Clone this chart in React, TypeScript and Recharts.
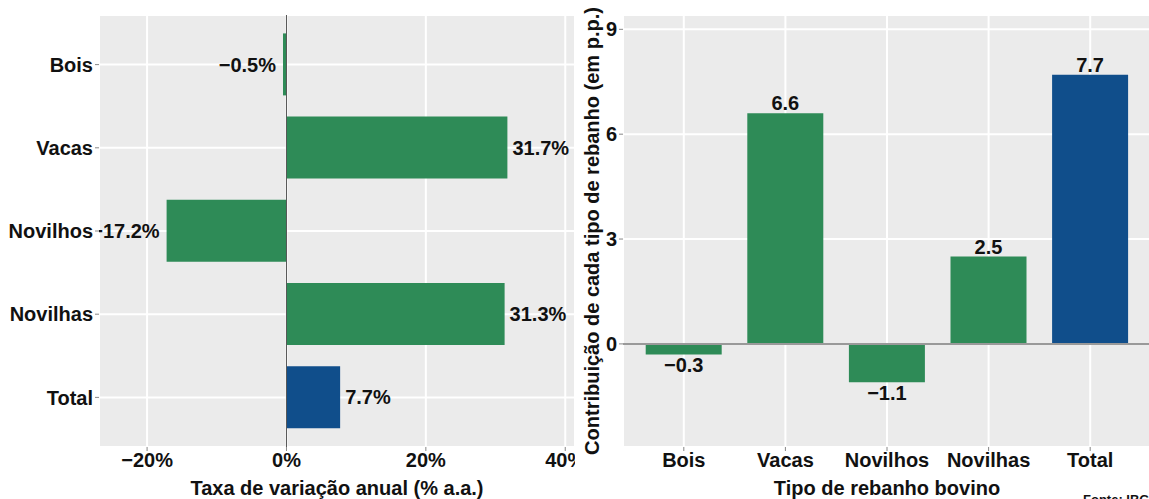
import { BarChart, Bar, XAxis, YAxis, CartesianGrid, ReferenceLine, Cell, LabelList, Label } from 'recharts';

const categories = ['Bois', 'Vacas', 'Novilhos', 'Novilhas', 'Total'];
const annualRate = [-0.5, 31.7, -17.2, 31.3, 7.7];
const contribution = [-0.3, 6.6, -1.1, 2.5, 7.7];
const rateTicks = [-20, 0, 20, 40];
const rateMinorTicks = [-10, 10, 30];
const contribTicks = [0, 3, 6, 9];
const contribMinorTicks = [-1.5, 1.5, 4.5, 7.5];

const GREEN = '#2E8B57';
const BLUE = '#104E8B';
const PANEL = '#EBEBEB';
const FONT = '"Liberation Sans", Arial, Helvetica, sans-serif';

const rateData = categories.map((name, i) => ({ name, value: annualRate[i] }));
const contribData = categories.map((name, i) => ({ name, value: contribution[i] }));

const minus = (s: string) => s.replace('-', '\u2212');
const fmtPct = (v: number) => minus(`${v}%`);
const fmtNum = (v: number) => minus(v.toFixed(1));

const textStyle = { fontFamily: FONT, fontWeight: 700, fontSize: 20, fill: '#111' };
const tickStyle = { fontFamily: FONT, fontWeight: 700, fontSize: 20, fill: '#111' };

// left panel layout
const L_W = 575;
const L_TOP = 15;
const L_AXIS_W = 99;
const L_AXIS_H = 52;

function RateLabel(props: any) {
  const { x, y, width, height, value } = props;
  const a = Number(x);
  const b = Number(x) + Number(width);
  const neg = Number(value) < 0;
  const end = neg ? Math.min(a, b) : Math.max(a, b);
  const cy = Number(y) + Number(height) / 2;
  return (
    <text
      x={neg ? end - 7 : end + 5}
      y={cy}
      dy="0.36em"
      textAnchor={neg ? 'end' : 'start'}
      clipPath="url(#rate-clip)"
      style={textStyle}
    >
      {fmtPct(Number(value))}
    </text>
  );
}

function ContribLabel(props: any) {
  const { x, y, width, height, value } = props;
  const top = Math.min(Number(y), Number(y) + Number(height));
  const bottom = Math.max(Number(y), Number(y) + Number(height));
  const cx = Number(x) + Number(width) / 2;
  const neg = Number(value) < 0;
  return (
    <text x={cx} y={neg ? bottom + 18 : top - 3} textAnchor="middle" style={textStyle}>
      {fmtNum(Number(value))}
    </text>
  );
}

function XTitle({ viewBox, text }: any) {
  const cx = viewBox.x + viewBox.width / 2;
  return (
    <text x={cx} y={viewBox.y + 48} textAnchor="middle" style={textStyle}>
      {text}
    </text>
  );
}

function YTitle({ viewBox, text }: any) {
  const cx = viewBox.x + 17;
  const cy = viewBox.y + viewBox.height / 2;
  return (
    <text
      x={cx}
      y={cy}
      dy="0.36em"
      transform={`rotate(-90 ${cx} ${cy})`}
      textAnchor="middle"
      style={textStyle}
    >
      {text}
    </text>
  );
}

function RateChart() {
  return (
    <BarChart
      layout="vertical"
      width={L_W}
      height={499}
      data={rateData}
      margin={{ top: L_TOP, right: 0, bottom: 0, left: 0 }}
      barCategoryGap="12.5%"
    >
      <defs>
        <clipPath id="rate-clip">
          <rect x={L_AXIS_W} y={L_TOP} width={L_W - L_AXIS_W} height={499 - L_TOP - L_AXIS_H} />
        </clipPath>
      </defs>
      <CartesianGrid fill={PANEL} stroke="#fff" strokeWidth={2} />
      <CartesianGrid xAxisId="minor" horizontal={false} stroke="#fff" strokeWidth={1} />
      <XAxis
        type="number"
        domain={[-26.9, 41.4]}
        ticks={rateTicks}
        tickFormatter={fmtPct}
        height={L_AXIS_H}
        axisLine={false}
        tickSize={4}
        tickMargin={2}
        tickLine={{ stroke: '#888' }}
        tick={tickStyle}
        interval={0}
      >
        <Label content={(p: any) => <XTitle viewBox={p.viewBox} text="Taxa de variação anual (% a.a.)" />} />
      </XAxis>
      <XAxis xAxisId="minor" type="number" domain={[-26.9, 41.4]} ticks={rateMinorTicks} hide />
      <YAxis
        type="category"
        dataKey="name"
        width={L_AXIS_W}
        padding={{ top: 8, bottom: 8 }}
        axisLine={false}
        tickSize={4}
        tickMargin={2}
        tickLine={{ stroke: '#888' }}
        tick={tickStyle}
        interval={0}
      />
      <Bar dataKey="value" isAnimationActive={false}>
        {rateData.map((d) => (
          <Cell key={d.name} fill={d.name === 'Total' ? BLUE : GREEN} />
        ))}
        <LabelList dataKey="value" content={RateLabel} />
      </Bar>
      <ReferenceLine x={0} stroke="#555" strokeWidth={1} />
    </BarChart>
  );
}

function ContribChart() {
  return (
    <BarChart
      width={576}
      height={499}
      data={contribData}
      margin={{ top: 15, right: 0, bottom: 0, left: 0 }}
      barCategoryGap="12.5%"
    >
      <CartesianGrid fill={PANEL} stroke="#fff" strokeWidth={2} />
      <CartesianGrid yAxisId="minor" vertical={false} stroke="#fff" strokeWidth={1} />
      <XAxis
        dataKey="name"
        height={52}
        padding={{ left: 10, right: 10 }}
        axisLine={false}
        tickSize={4}
        tickMargin={2}
        tickLine={{ stroke: '#888' }}
        tick={tickStyle}
        interval={0}
      >
        <Label content={(p: any) => <XTitle viewBox={p.viewBox} text="Tipo de rebanho bovino" />} />
      </XAxis>
      <YAxis
        type="number"
        domain={[-2.95, 9.41]}
        ticks={contribTicks}
        width={48}
        axisLine={false}
        tickSize={4}
        tickMargin={2}
        tickLine={{ stroke: '#888' }}
        tick={tickStyle}
        interval={0}
      >
        <Label content={(p: any) => <YTitle viewBox={p.viewBox} text="Contribuição de cada tipo de rebanho (em p.p.)" />} />
      </YAxis>
      <YAxis yAxisId="minor" type="number" domain={[-2.95, 9.41]} ticks={contribMinorTicks} hide />
      <ReferenceLine y={0} stroke="#999" strokeWidth={2} />
      <Bar dataKey="value" isAnimationActive={false}>
        {contribData.map((d) => (
          <Cell key={d.name} fill={d.name === 'Total' ? BLUE : GREEN} />
        ))}
        <LabelList dataKey="value" content={ContribLabel} />
      </Bar>
    </BarChart>
  );
}

export default function App() {
  return (
    <div
      style={{
        position: 'absolute',
        left: 0,
        top: 0,
        width: 1149,
        height: 499,
        overflow: 'hidden',
        background: '#fff',
      }}
    >
      <div style={{ position: 'absolute', left: 0, top: 0 }}>
        <RateChart />
      </div>
      <div style={{ position: 'absolute', left: L_W, top: 0, background: '#fff' }}>
        <ContribChart />
      </div>
      <div
        style={{
          position: 'absolute',
          left: 1083,
          top: 492,
          fontFamily: FONT,
          fontWeight: 700,
          fontSize: 13,
          color: '#111',
          whiteSpace: 'nowrap',
        }}
      >
        Fonte: IBGE
      </div>
    </div>
  );
}
